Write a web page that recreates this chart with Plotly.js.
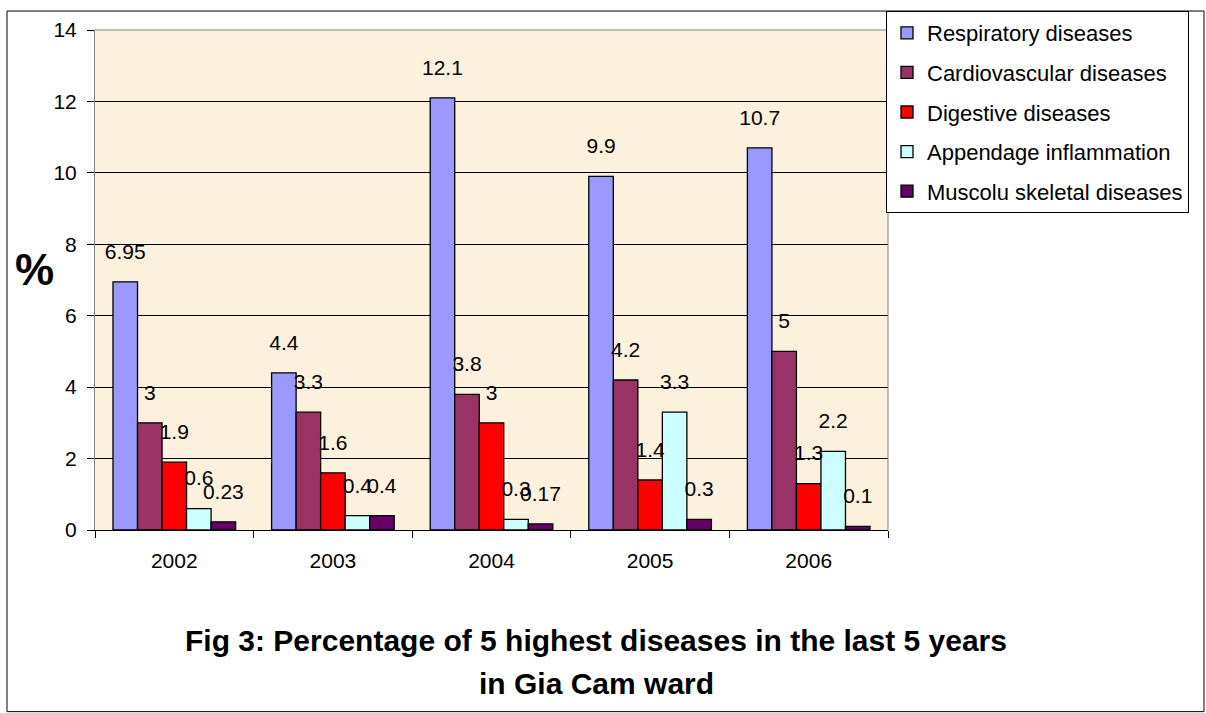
<!DOCTYPE html>
<html>
<head>
<meta charset="utf-8">
<script src="https://cdn.plot.ly/plotly-3.0.1.min.js"></script>
<style>html,body{margin:0;padding:0;background:#fff;}#chart{width:1206px;height:713px;}</style>
</head>
<body>
<div id="chart"></div>
<script>
const years = ['2002', '2003', '2004', '2005', '2006'];
const seriesNames = ['Respiratory diseases', 'Cardiovascular diseases', 'Digestive diseases', 'Appendage inflammation', 'Muscolu skeletal diseases'];
const respiratory = [6.95, 4.4, 12.1, 9.9, 10.7];
const cardiovascular = [3, 3.3, 3.8, 4.2, 5];
const digestive = [1.9, 1.6, 3, 1.4, 1.3];
const appendage = [0.6, 0.4, 0.3, 3.3, 2.2];
const musculo = [0.23, 0.4, 0.17, 0.3, 0.1];
const yTicks = [0, 2, 4, 6, 8, 10, 12, 14];
const colors = ['#9999ff', '#993366', '#ff0000', '#ccffff', '#660066'];
const titleLine1 = 'Fig 3: Percentage of 5 highest diseases in the last 5 years';
const titleLine2 = 'in Gia Cam ward';

const allSeries = [respiratory, cardiovascular, digestive, appendage, musculo];
const FONT = 'Liberation Sans, Arial, sans-serif';
const GAP = 0.227;

const traces = [];
allSeries.forEach((vals, i) => {
  traces.push({
    type: 'bar', name: seriesNames[i], x: years, y: vals,
    marker: {color: colors[i], line: {color: '#000', width: 1.3}},
    legendgroup: 'g' + i, offsetgroup: 'g' + i,
    hoverinfo: 'x+y+name'
  });
});
allSeries.forEach((vals, i) => {
  traces.push({
    type: 'scatter', mode: 'markers+text', x: years, y: vals,
    text: vals.map(v => String(v)), textposition: 'top center',
    textfont: {family: FONT, size: 21, color: '#000'},
    showlegend: false, offsetgroup: 'g' + i, cliponaxis: false,
    marker: {size: 27, opacity: 0}, hoverinfo: 'skip'
  });
});

const pxX = px => (px - 95) / 793;
const pxY = py => (530 - py) / 501;

const layout = {
  width: 1206, height: 713,
  margin: {l: 95, r: 318, t: 29, b: 183},
  paper_bgcolor: '#ffffff', plot_bgcolor: '#fcf1dc',
  barmode: 'group', bargap: GAP, bargroupgap: 0,
  scattermode: 'group', scattergap: GAP,
  font: {family: FONT, color: '#000'},
  xaxis: {
    type: 'category', tickson: 'boundaries', ticks: 'outside', ticklen: 7,
    tickcolor: '#000', showgrid: false, showline: true, linecolor: '#000', linewidth: 1,
    tickfont: {size: 21, family: FONT}, ticklabelstandoff: 12, zeroline: false
  },
  yaxis: {
    range: [0, 14], tickvals: yTicks, ticks: 'outside', ticklen: 7, tickcolor: '#000',
    showgrid: true, gridcolor: '#000', gridwidth: 1, zeroline: false,
    showline: true, linecolor: '#808080', linewidth: 1,
    tickfont: {size: 21, family: FONT}, ticklabelstandoff: 6
  },
  legend: {
    x: pxX(886), y: pxY(11), xanchor: 'left', yanchor: 'top',
    bgcolor: '#ffffff', bordercolor: '#000', borderwidth: 1,
    font: {size: 22, family: FONT}, traceorder: 'grouped', tracegroupgap: 8
  },
  shapes: [
    {type: 'rect', xref: 'paper', yref: 'paper', x0: pxX(7), x1: pxX(1204), y0: pxY(712), y1: pxY(10),
     line: {color: '#000', width: 1}, fillcolor: 'rgba(0,0,0,0)', layer: 'below'},
    {type: 'line', xref: 'paper', yref: 'paper', x0: 0, x1: 1, y0: 1, y1: 1, line: {color: '#808080', width: 1}},
    {type: 'line', xref: 'paper', yref: 'paper', x0: 1, x1: 1, y0: 0, y1: 1, line: {color: '#808080', width: 1}}
  ],
  annotations: [
    {text: '<b>%</b>', xref: 'paper', yref: 'paper', x: pxX(34), y: pxY(269), showarrow: false,
     font: {size: 44, family: FONT}, xanchor: 'center', yanchor: 'middle'},
    {text: '<b>' + titleLine1 + '</b>', xref: 'paper', yref: 'paper', x: pxX(596), y: pxY(641), showarrow: false,
     font: {size: 30, family: FONT}, xanchor: 'center', yanchor: 'middle'},
    {text: '<b>' + titleLine2 + '</b>', xref: 'paper', yref: 'paper', x: pxX(596), y: pxY(684), showarrow: false,
     font: {size: 30, family: FONT}, xanchor: 'center', yanchor: 'middle'}
  ]
};

Plotly.newPlot('chart', traces, layout, {displayModeBar: false, staticPlot: true});
</script>
</body>
</html>
